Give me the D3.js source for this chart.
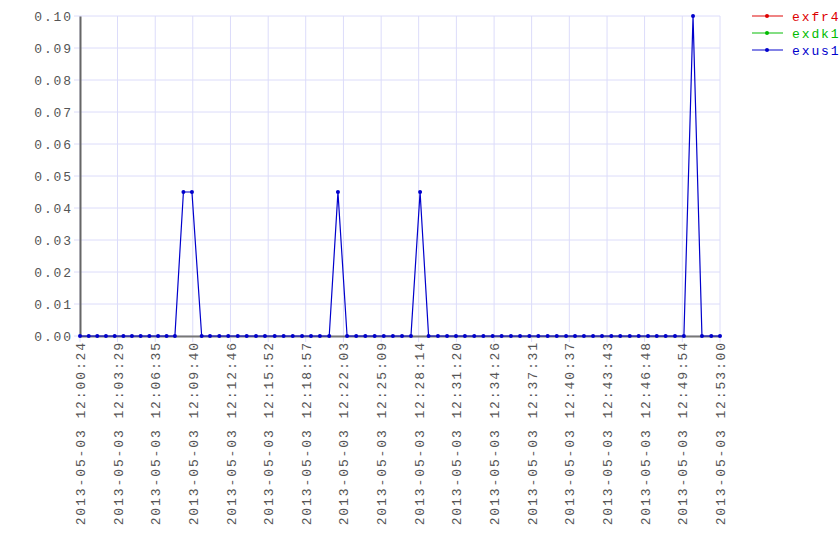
<!DOCTYPE html>
<html>
<head>
<meta charset="utf-8">
<script src="https://cdn.jsdelivr.net/npm/d3@7"></script>
<style>
  body { margin: 0; background: #fff; }
  text { font-family: "Liberation Mono", "DejaVu Sans Mono", monospace; font-size: 13px; letter-spacing: 1.9px; }
</style>
</head>
<body>
<svg id="chart"></svg>
<script>
var day = "2013-05-03";

// sample times
var times = [
  "12:00:24","12:01:07","12:01:49","12:02:32","12:03:15","12:03:58","12:04:40","12:05:23",
  "12:06:06","12:06:49","12:07:31","12:08:12","12:08:54","12:09:36","12:10:24","12:11:05",
  "12:11:51","12:12:35","12:13:22","12:14:06","12:14:52","12:15:36","12:16:24","12:17:08",
  "12:17:53","12:18:39","12:19:23","12:20:07","12:20:53","12:21:36","12:22:21","12:23:06",
  "12:23:51","12:24:37","12:25:22","12:26:07","12:26:52","12:27:36","12:28:21","12:29:03",
  "12:29:49","12:30:34","12:31:18","12:32:02","12:32:48","12:33:33","12:34:19","12:35:03",
  "12:35:49","12:36:34","12:37:20","12:38:04","12:38:50","12:39:35","12:40:21","12:41:05",
  "12:41:49","12:42:34","12:43:18","12:44:04","12:44:48","12:45:35","12:46:19","12:47:05",
  "12:47:48","12:48:32","12:49:18","12:50:02","12:50:47","12:51:31","12:52:17","12:53:00"
];

var exus1 = [
  0,0,0,0,0,0,0,0, 0,0,0,0,0.045,0.045,0,0,
  0,0,0,0,0,0,0,0, 0,0,0,0,0,0.045,0,0,
  0,0,0,0,0,0,0.045,0, 0,0,0,0,0,0,0,0,
  0,0,0,0,0,0,0,0, 0,0,0,0,0,0,0,0,
  0,0,0,0,0.10,0,0,0
];
var exfr4 = [];
var exdk1 = [];

var seriesNames = ["exfr4", "exdk1", "exus1"];
var seriesColors = ["#dd0000", "#00bb00", "#0000cc"];

var xTickTimes = ["12:00:24","12:03:29","12:06:35","12:09:40","12:12:46","12:15:52",
  "12:18:57","12:22:03","12:25:09","12:28:14","12:31:20","12:34:26",
  "12:37:31","12:40:37","12:43:43","12:46:48","12:49:54","12:53:00"];
var yTicks = [0, 0.01, 0.02, 0.03, 0.04, 0.05, 0.06, 0.07, 0.08, 0.09, 0.10];

var width = 840, height = 560;
var margin = { left: 80, right: 120, top: 16, bottom: 224 };

var svg = d3.select("#chart").attr("width", width).attr("height", height);

var parse = d3.timeParse("%Y-%m-%d %H:%M:%S");
var toDate = function (t) { return parse(day + " " + t); };

var x = d3.scaleTime()
  .domain([toDate(times[0]), toDate(times[times.length - 1])])
  .range([margin.left, width - margin.right]);
var y = d3.scaleLinear()
  .domain([0, 0.1])
  .range([height - margin.bottom, margin.top]);

// grid
svg.append("g").selectAll("line.vg")
  .data(xTickTimes).enter().append("line")
  .attr("x1", function (d) { return x(toDate(d)); })
  .attr("x2", function (d) { return x(toDate(d)); })
  .attr("y1", margin.top)
  .attr("y2", y(0) + 6)
  .attr("stroke", "#dcdcfa").attr("stroke-width", 1);

svg.append("g").selectAll("line.hg")
  .data(yTicks).enter().append("line")
  .attr("x1", margin.left - 6)
  .attr("x2", width - margin.right)
  .attr("y1", function (d) { return y(d); })
  .attr("y2", function (d) { return y(d); })
  .attr("stroke", "#dcdcfa").attr("stroke-width", 1);

// axes
var yAxis = svg.append("g")
  .attr("transform", "translate(" + margin.left + ",0)")
  .call(d3.axisLeft(y).tickValues(yTicks).tickFormat(d3.format(".2f")).tickSize(0).tickPadding(7));
yAxis.select(".domain").attr("stroke", "#666").attr("stroke-width", 2);
yAxis.attr("font-family", null).attr("font-size", null);
yAxis.selectAll("text").attr("fill", "#555");

var xAxis = svg.append("g")
  .attr("transform", "translate(0," + y(0) + ")")
  .call(d3.axisBottom(x).tickValues(xTickTimes.map(toDate)).tickSize(0)
    .tickFormat(d3.timeFormat("%Y-%m-%d %H:%M:%S")));
xAxis.select(".domain").attr("stroke", "#777").attr("stroke-width", 2);
xAxis.attr("font-family", null).attr("font-size", null);
xAxis.selectAll("text")
  .attr("fill", "#555")
  .attr("transform", "rotate(-90)")
  .attr("text-anchor", "end")
  .attr("x", -5)
  .attr("y", 0)
  .attr("dy", "0.35em");

// series
var allSeries = [exfr4, exdk1, exus1];
var line = d3.line()
  .x(function (d, i) { return x(toDate(times[i])); })
  .y(function (d) { return y(d); });

allSeries.forEach(function (vals, k) {
  if (!vals.length) return;
  svg.append("path")
    .datum(vals)
    .attr("d", line)
    .attr("fill", "none")
    .attr("stroke", seriesColors[k])
    .attr("stroke-width", 1.2);
  svg.append("g").selectAll("circle")
    .data(vals).enter().append("circle")
    .attr("cx", function (d, i) { return x(toDate(times[i])); })
    .attr("cy", function (d) { return y(d); })
    .attr("r", 2)
    .attr("fill", seriesColors[k]);
});

// legend
var legend = svg.append("g").selectAll("g")
  .data(seriesNames).enter().append("g")
  .attr("transform", function (d, i) { return "translate(752," + (16 + i * 17) + ")"; });
legend.append("line")
  .attr("x1", 0).attr("x2", 31)
  .attr("stroke", function (d, i) { return seriesColors[i]; })
  .attr("stroke-opacity", 0.65)
  .attr("stroke-width", 1.5);
legend.append("circle")
  .attr("cx", 15).attr("r", 2)
  .attr("fill", function (d, i) { return seriesColors[i]; });
legend.append("text")
  .attr("x", 40).attr("dy", "0.35em")
  .attr("fill", function (d, i) { return seriesColors[i]; })
  .text(function (d) { return d; });
</script>
</body>
</html>
